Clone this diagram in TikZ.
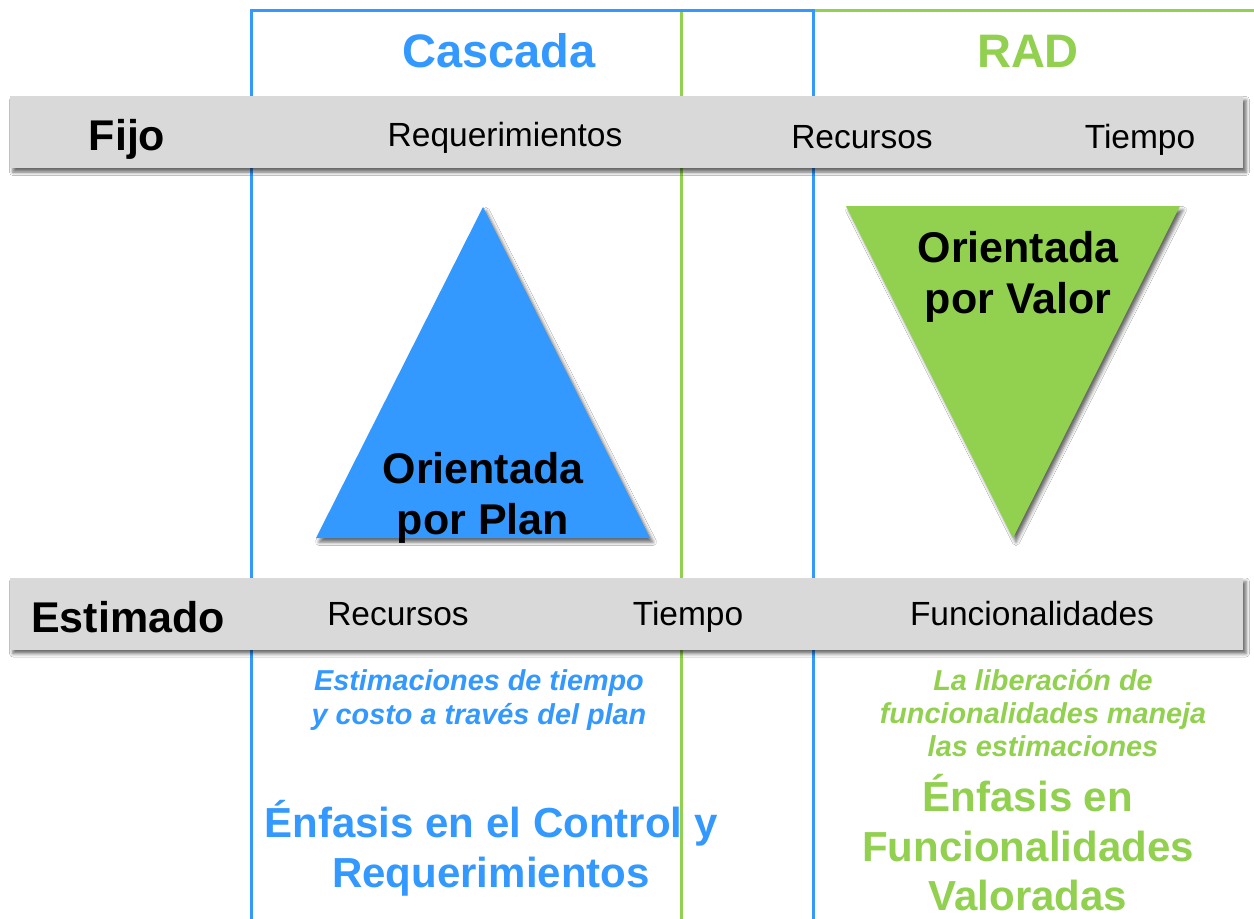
\documentclass[tikz,border=0pt]{standalone}
\usepackage{fontspec}
\setmainfont{Liberation Sans}
\usetikzlibrary{shadows.blur}
\definecolor{cblue}{RGB}{51,153,255}
\definecolor{cgreen}{RGB}{146,208,80}
\definecolor{cbar}{RGB}{217,217,217}
\newcommand{\fsz}[1]{\fontsize{#1}{#1}\selectfont}
\begin{document}
\begin{tikzpicture}[x=1pt,y=-1pt,
  shd/.style={blur shadow={shadow xshift=3pt, shadow yshift=-4pt, shadow blur radius=3.5pt, shadow opacity=60}},
  bar/.style={fill=cbar, draw=none, shd, minimum width=1233pt, minimum height=72pt, inner sep=0pt},
  title/.style={anchor=base, inner sep=0pt, font=\fsz{47}\bfseries},
  rowlbl/.style={anchor=base, inner sep=0pt, font=\fsz{43}\bfseries, text=black},
  item/.style={anchor=base, inner sep=0pt, font=\fsz{33.5}, text=black},
  tri/.style={anchor=base, inner sep=0pt, font=\fsz{43}\bfseries, text=black},
  note/.style={anchor=base, inner sep=0pt, font=\fsz{28.8}\bfseries\itshape},
  emph/.style={anchor=base, inner sep=0pt, font=\fsz{42}\bfseries},
  vline/.style={line width=3pt}]
\useasboundingbox (0,0) rectangle (1254,919);
\fill[white] (0,0) rectangle (1254,919);
% column frames
\draw[vline, cgreen] (681,930) -- (681,10) -- (1270,10);
\draw[vline, cblue] (251,930) -- (251,10) -- (813,10) -- (813,930);
% bars
\node[bar] (fijobar) at (626.5,132) {};
\node[bar] (estbar) at (626.5,613.5) {};
% triangles
\path[fill=cblue, shd] (483,207) -- (650,538) -- (316,538) -- cycle;
\path[fill=cgreen, shd] (846,206) -- (1180,206) -- (1013,538) -- cycle;
% titles
\node[title, text=cblue] (cascada) at (499,67) {Cascada};
\node[title, text=cgreen] (rad) at (1028,67) {RAD};
% row labels
\node[rowlbl] (fijo) at (127,150) {Fijo};
\node[rowlbl] (estimado) at (128,632) {Estimado};
% fixed items
\node[item] (req) at (505,146) {Requerimientos};
\node[item] (rec1) at (862,148) {Recursos};
\node[item] (tie1) at (1140,148) {Tiempo};
% estimated items
\node[item] (rec2) at (398,625) {Recursos};
\node[item] (tie2) at (688,625) {Tiempo};
\node[item] (fun) at (1032,625) {Funcionalidades};
% triangle labels
\node[tri] (or1) at (483,483) {Orientada};
\node[tri] (or2) at (483,534) {por Plan};
\node[tri] (ov1) at (1018,262) {Orientada};
\node[tri] (ov2) at (1018,313) {por Valor};
% notes
\node[note, text=cblue] (n1a) at (479,690) {Estimaciones de tiempo};
\node[note, text=cblue] (n1b) at (479,724) {y costo a través del plan};
\node[note, text=cgreen] (n2a) at (1043,690) {La liberación de};
\node[note, text=cgreen] (n2b) at (1043,723) {funcionalidades maneja};
\node[note, text=cgreen] (n2c) at (1043,756) {las estimaciones};
% emphasis
\node[emph, text=cblue] (e1a) at (491,837) {Énfasis en el Control y};
\node[emph, text=cblue] (e1b) at (491,887) {Requerimientos};
\node[emph, text=cgreen] (e2a) at (1028,811) {Énfasis en};
\node[emph, text=cgreen] (e2b) at (1028,861) {Funcionalidades};
\node[emph, text=cgreen] (e2c) at (1028,910) {Valoradas};
\end{tikzpicture}
\end{document}
